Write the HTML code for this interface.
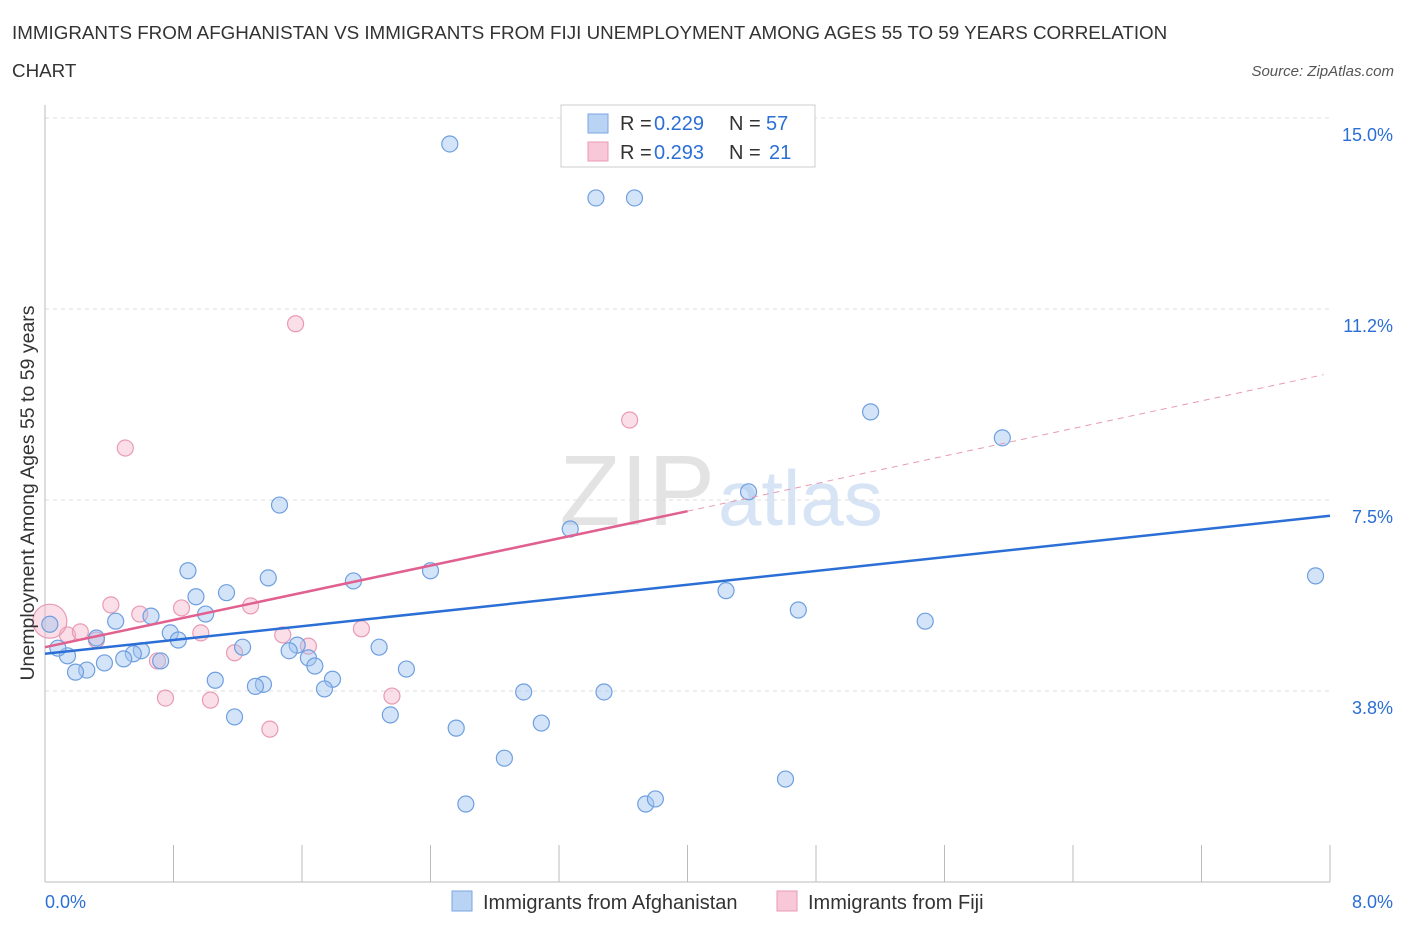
<!DOCTYPE html>
<html><head><meta charset="utf-8"><style>
body{margin:0;background:#fff;font-family:"Liberation Sans",sans-serif;}
svg text{font-family:"Liberation Sans",sans-serif;}
</style></head><body>
<svg width="1406" height="930" viewBox="0 0 1406 930" xmlns="http://www.w3.org/2000/svg">
<text x="12" y="39" font-size="18.8" fill="#333">IMMIGRANTS FROM AFGHANISTAN VS IMMIGRANTS FROM FIJI UNEMPLOYMENT AMONG AGES 55 TO 59 YEARS CORRELATION</text>
<text x="12" y="77" font-size="18.8" fill="#333">CHART</text>
<text x="1394" y="76" font-size="15" fill="#555" font-style="italic" text-anchor="end">Source: ZipAtlas.com</text>
<text x="715" y="525" font-size="100" fill="#e3e3e3" font-family="Liberation Serif" text-anchor="end">ZIP</text>
<text x="718" y="525" font-size="78" fill="#d6e4f5">atlas</text>
<g id="grid"></g>
<g id="axes"></g>
<g id="marks"></g>
<text transform="translate(34,493) rotate(-90)" font-size="19.5" fill="#333" text-anchor="middle">Unemployment Among Ages 55 to 59 years</text>
<g>
<rect x="561" y="105" width="254" height="62" fill="#fff" stroke="#ccc"/>
<rect x="588" y="114" width="20" height="19" fill="#b9d3f5" stroke="#7aa6e0"/>
<rect x="588" y="142" width="20" height="19" fill="#f9c8d8" stroke="#e89ab5"/>
<text y="130" font-size="20" fill="#333"><tspan x="620">R =</tspan><tspan x="654" fill="#2b6fd6">0.229</tspan><tspan x="729">N =</tspan><tspan x="766" fill="#2b6fd6">57</tspan></text>
<text y="159" font-size="20" fill="#333"><tspan x="620">R =</tspan><tspan x="654" fill="#2b6fd6">0.293</tspan><tspan x="729">N =</tspan><tspan x="769" fill="#2b6fd6">21</tspan></text>
</g>
<g>
<rect x="452" y="891" width="20" height="20" fill="#b9d3f5" stroke="#7aa6e0"/>
<text x="483" y="909" font-size="20" fill="#333">Immigrants from Afghanistan</text>
<rect x="777" y="891" width="20" height="20" fill="#f9c8d8" stroke="#e89ab5"/>
<text x="808" y="909" font-size="20" fill="#333">Immigrants from Fiji</text>
</g>
</svg>
<script>
const yTicks=[15.0,11.25,7.5,3.75];
const yTickLabels=["15.0%","11.2%","7.5%","3.8%"];
const xTickLabels=["0.0%","8.0%"];
const blueX=[2.52,3.43,3.67,5.14,5.96,4.38,1.46,3.27,0.89,1.39,2.40,1.92,0.94,1.13,4.24,7.91,4.69,5.48,0.66,0.44,1.00,0.32,0.78,0.83,1.23,1.57,1.52,2.08,1.64,1.68,2.25,1.79,1.74,1.06,1.36,1.31,0.72,0.60,0.55,0.49,0.37,0.26,0.19,0.14,0.08,0.03,2.98,3.48,2.15,1.18,2.56,3.09,2.86,4.61,2.62,3.74,3.80];
const blueY=[14.49,13.43,13.43,9.23,8.72,7.66,7.40,6.93,6.11,5.97,6.11,5.91,5.60,5.68,5.72,6.01,5.34,5.12,5.22,5.12,5.26,4.79,4.89,4.75,4.61,4.65,4.54,4.61,4.40,4.24,4.18,3.98,3.79,3.96,3.88,3.84,4.34,4.54,4.48,4.38,4.30,4.16,4.12,4.44,4.59,5.06,3.73,3.73,3.28,3.24,3.02,3.12,2.43,2.02,1.53,1.53,1.63];
const pinkX=[1.56,3.64,0.50,0.41,0.59,0.85,1.28,0.97,0.32,0.14,0.22,0.03,0.70,1.18,1.64,1.48,1.97,0.75,1.03,2.16,1.40];
const pinkY=[10.96,9.07,8.52,5.44,5.26,5.38,5.42,4.89,4.75,4.85,4.91,5.12,4.34,4.50,4.63,4.85,4.97,3.61,3.57,3.65,3.00];
const blueTrend=[0,4.48,8,7.19];
const pinkTrend=[0,4.61,4.0,7.28,7.96,9.96];
const NS="http://www.w3.org/2000/svg";
const X=v=>45+v*160.625, Y=v=>118+(15-v)*50.93;
function el(t,a,p){const e=document.createElementNS(NS,t);for(const k in a)e.setAttribute(k,a[k]);document.getElementById(p).appendChild(e);return e;}
yTicks.forEach((t,i)=>{
 const g=el('line',{x1:45,x2:1330,y1:Y(t),y2:Y(t),stroke:'#ddd','stroke-dasharray':'4,4'},'grid');
 
 
 const tx=el('text',{x:1393,y:Y(t)+23,'font-size':18,fill:'#2b6fd6','text-anchor':'end'},'axes');
 tx.textContent=yTickLabels[i];
 
 
});
let a=el('line',{x1:45,x2:45,y1:105,y2:882,stroke:'#bbb'},'axes');


a=el('line',{x1:45,x2:1330,y1:882,y2:882,stroke:'#bbb'},'axes');


for(let i=0;i<=10;i++){const t=el('line',{x1:X(i*0.8),x2:X(i*0.8),y1:845,y2:882,stroke:'#bbb'},'axes');
 
 }
[[0,45,'start'],[8,1393,'end']].forEach((d,i)=>{const t=el('text',{x:d[1],y:908,'font-size':18,fill:'#2b6fd6','text-anchor':d[2]},'axes');t.textContent=xTickLabels[i];
 
 });
pinkX.forEach((x,i)=>{const c=el('circle',{cx:X(x),cy:Y(pinkY[i]),r:i==11?17:8,fill:'rgba(245,175,198,0.4)',stroke:'#e89ab5','stroke-width':1.2},'marks');
 
 });
blueX.forEach((x,i)=>{const c=el('circle',{cx:X(x),cy:Y(blueY[i]),r:8,fill:'rgba(160,195,240,0.45)',stroke:'#6e9fe0','stroke-width':1.2},'marks');
 
 });
let l=el('line',{x1:X(blueTrend[0]),y1:Y(blueTrend[1]),x2:X(blueTrend[2]),y2:Y(blueTrend[3]),stroke:'#2b6fd6','stroke-width':2.5},'marks');


l=el('line',{x1:X(pinkTrend[0]),y1:Y(pinkTrend[1]),x2:X(pinkTrend[2]),y2:Y(pinkTrend[3]),stroke:'#e0608f','stroke-width':2.5},'marks');


l=el('line',{x1:X(pinkTrend[2]),y1:Y(pinkTrend[3]),x2:X(pinkTrend[4]),y2:Y(pinkTrend[5]),stroke:'#e89ab5','stroke-width':1,'stroke-dasharray':'6,5'},'marks');


</script>
</body></html>
